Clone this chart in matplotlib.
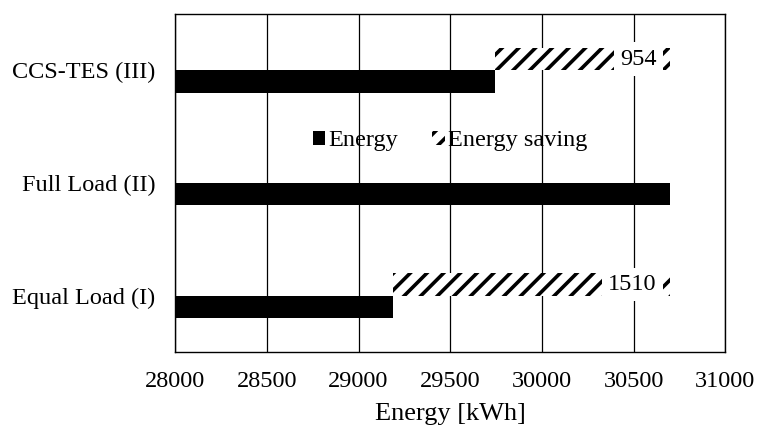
import matplotlib
matplotlib.use("Agg")
import matplotlib.pyplot as plt
import numpy as np

plt.rcParams['font.family'] = ['Liberation Serif', 'DejaVu Serif']
plt.rcParams['hatch.linewidth'] = 2.6

categories = ["Equal Load (I)", "Full Load (II)", "CCS-TES (III)"]
energy = [29190, 30700, 29746]
saving = [1510, 0, 954]
xticks = [28000, 28500, 29000, 29500, 30000, 30500, 31000]

fig = plt.figure(figsize=(7.58, 4.25), dpi=100)
ax = fig.add_axes([0.231, 0.172, 0.726, 0.795])

y = np.arange(len(categories))
h = 0.2
ax.barh(y - h / 2, np.array(energy) - 28000, left=28000, height=h,
        color='black', label='Energy', zorder=3)
bars = ax.barh(y + h / 2, saving, left=energy, height=h, facecolor='white',
               edgecolor='black', linewidth=0, hatch='//',
               label='Energy saving', zorder=3)

for yi, e, s in zip(y, energy, saving):
    if s > 0:
        ax.annotate(str(s), xy=(e + s, yi + h / 2), xytext=(-10, 0),
                    textcoords='offset points', ha='right', va='center',
                    fontsize=17.5, zorder=4,
                    bbox=dict(boxstyle='square,pad=0.25', fc='white', ec='none'))

ax.set_xlim(28000, 31000)
ax.set_ylim(-0.5, 2.5)
ax.set_xticks(xticks)
ax.set_xticklabels([str(t) for t in xticks], fontsize=17.5)
ax.set_yticks(y)
ax.set_yticklabels(categories, fontsize=17.5)
ax.tick_params(axis='y', length=0, pad=14)
ax.tick_params(axis='x', length=0, pad=14)
ax.grid(axis='x', color='black', linewidth=0.9, zorder=0)
for sp in ax.spines.values():
    sp.set_color('black')
    sp.set_linewidth(1.0)
ax.set_xlabel("Energy [kWh]", fontsize=19, labelpad=8)

ax.legend(loc='center', bbox_to_anchor=(0.5, 0.625), ncol=2, frameon=False,
          fontsize=17.5, handlelength=0.5, handleheight=0.5, handletextpad=0.15,
          columnspacing=1.4)

fig.savefig("out.png", dpi=100)
